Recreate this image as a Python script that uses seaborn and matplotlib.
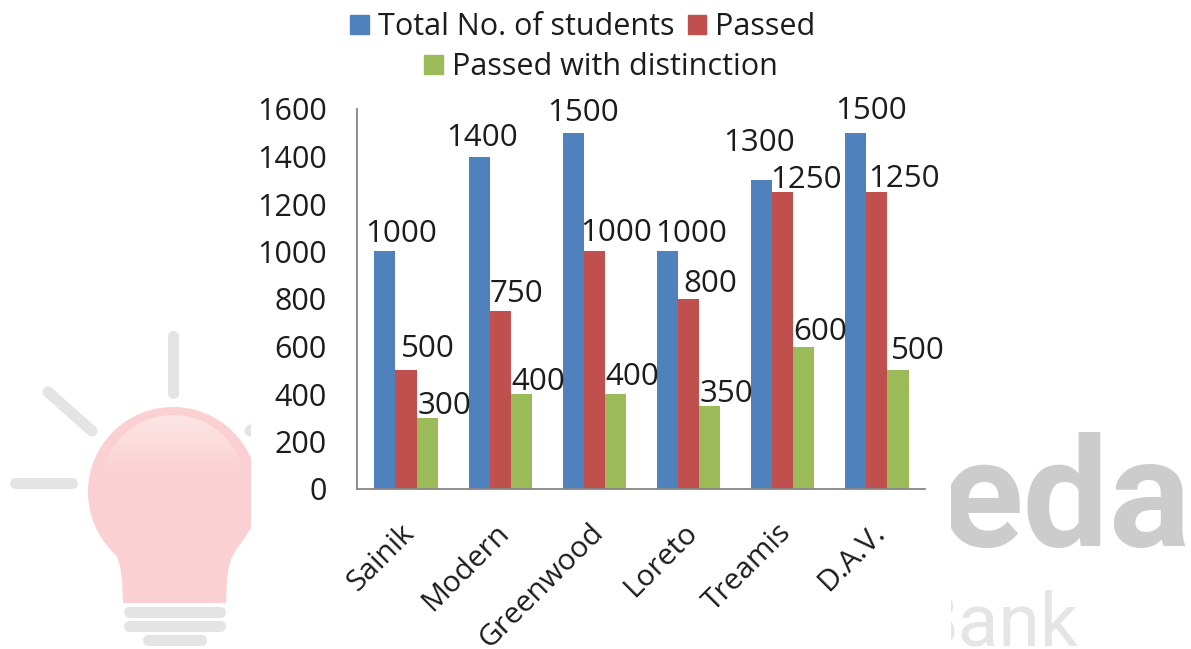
# =========================================
# STUDENTS PASSED PER SCHOOL - GROUPED BARS
# =========================================

import numpy as np
import pandas as pd

import matplotlib
matplotlib.use("Agg")
import matplotlib.pyplot as plt
from matplotlib.patches import Circle, Polygon, Rectangle
from matplotlib.transforms import ScaledTranslation
import seaborn as sns


# =========================================
# DATA
# =========================================

schools = ["Sainik", "Modern", "Greenwood", "Loreto", "Treamis", "D.A.V."]
total_students = [1000, 1400, 1500, 1000, 1300, 1500]
passed = [500, 750, 1000, 800, 1250, 1250]
distinction = [300, 400, 400, 350, 600, 500]

series_names = ["Total No. of students", "Passed", "Passed with distinction"]
y_ticks = [0, 200, 400, 600, 800, 1000, 1200, 1400, 1600]


# =========================================
# STYLE
# =========================================

colors = ["#4F81BD", "#C0504D", "#9BBB59"]
text_color = "#1C1C1C"

# value label shift from the top centre of its bar, in pixels (x, up)
label_shift = [
    [(16, 17), (3, 19), (10, 20), (24, 17), (-3, 37), (15, 22)],
    [(22, 21), (16, 17), (22, 18), (22, 15), (23, 12), (27, 13)],
    [(17, 12), (17, 12), (17, 17), (17, 12), (16, 15), (20, 19)],
]

sns.set_theme(style="white")
plt.rcParams["font.family"] = ["Open Sans", "DejaVu Sans"]

W, H = 1191, 649
fig = plt.figure(figsize=(W / 100, H / 100), dpi=100)


# =========================================
# WATERMARK BEHIND THE CHART
# =========================================

bg = fig.add_axes([0, 0, 1, 1], zorder=0)
bg.set_axis_off()

grey = "#E4E4E4"
pink = "#FBD0D2"

for x0, y0, x1, y1 in [(173, 336, 173, 393), (48, 392, 92, 431), (15, 483, 72, 483), (250, 431, 300, 392)]:
    bg.plot([x0, x1], [y0, y1], color=grey, lw=8, solid_capstyle="round")

bg.add_patch(Circle((173, 492), 85, color=pink, lw=0))
bg.add_patch(Polygon(
    [(97, 527), (105, 538), (112, 548), (117, 557), (120, 566), (122, 580), (123, 603),
     (226, 603), (227, 580), (229, 566), (232, 557), (237, 548), (244, 538), (252, 527)],
    color=pink, lw=0,
))

shine_rgba = np.zeros((60, 1, 4))
shine_rgba[:, 0, :3] = 1
shine_rgba[:, 0, 3] = np.linspace(0.45, 0, 60)
shine_img = bg.imshow(shine_rgba, extent=(95, 251, 475, 415), aspect="auto", zorder=3)
shine_img.set_clip_path(Circle((173, 487), 72, transform=bg.transData))

for x0, x1, y0 in [(129, 220, 612), (129, 220, 626), (148, 201, 640)]:
    bg.plot([x0, x1], [y0, y0], color=grey, lw=8, solid_capstyle="round", zorder=3)

bg.text(1191, 547, "eda", color="#CCCCCC", fontsize=110, fontweight="bold",
        family="Roboto", ha="right", va="baseline")
bg.text(1079, 645, "Bank", color="#E5E5E5", fontsize=54,
        family="Roboto", ha="right", va="baseline")

# the chart's white box hides the middle of the logo
bg.add_patch(Rectangle((251, 0), 700, H, color="white", lw=0, zorder=4))

bg.set_xlim(0, W)
bg.set_ylim(H, 0)


# =========================================
# BARS
# =========================================

df = pd.DataFrame({
    "school": schools * 3,
    "series": np.repeat(series_names, len(schools)),
    "value": total_students + passed + distinction,
})

ax = fig.add_axes([357 / W, 1 - 489 / H, 568 / W, 380 / H], zorder=1)
ax.patch.set_alpha(0)

sns.barplot(
    data=df, x="school", y="value", hue="series",
    hue_order=series_names, palette=colors, saturation=1,
    width=0.67, gap=0, errorbar=None, linewidth=0, ax=ax, legend=False,
)

ax.set_ylim(0, 1600)
ax.set_yticks(y_ticks)
ax.set_xlim(-0.52, 5.51)
ax.set_xlabel("")
ax.set_ylabel("")

ax.tick_params(axis="y", length=0, pad=22, labelsize=22, labelcolor=text_color)
ax.tick_params(axis="x", length=0, pad=21, labelsize=21.5, labelcolor=text_color)

nudge = ScaledTranslation(-6 / 100, 0, fig.dpi_scale_trans)
for tick_label in ax.get_xticklabels():
    tick_label.set(rotation=45, ha="right", rotation_mode="anchor")
    tick_label.set_transform(tick_label.get_transform() + nudge)

sns.despine(ax=ax)
for side in ["left", "bottom"]:
    ax.spines[side].set_color("#868686")
    ax.spines[side].set_linewidth(1.3)


# =========================================
# VALUE LABELS
# =========================================

for container, shifts in zip(ax.containers, label_shift):
    for bar, shift in zip(container, shifts):
        ax.annotate(
            f"{bar.get_height():.0f}",
            (bar.get_x() + bar.get_width() / 2, bar.get_height()),
            xytext=shift, textcoords="offset pixels",
            ha="center", va="center", fontsize=22.5, color=text_color,
            annotation_clip=False,
        )


# =========================================
# LEGEND (TWO CENTRED ROWS)
# =========================================

handles = [Rectangle((0, 0), 1, 1, color=c) for c in colors]
legend_opts = dict(
    frameon=False, fontsize=22, labelcolor=text_color, handlelength=0.6,
    handleheight=0.6, handletextpad=0.3, columnspacing=0.45,
    borderpad=0, borderaxespad=0, loc="center",
)
fig.legend(handles[:2], series_names[:2], ncol=2,
           bbox_to_anchor=(583 / W, 1 - 27 / H), **legend_opts)
fig.legend(handles[2:], series_names[2:], ncol=1,
           bbox_to_anchor=(601 / W, 1 - 67 / H), **legend_opts)

plt.savefig("out.png", dpi=100)
